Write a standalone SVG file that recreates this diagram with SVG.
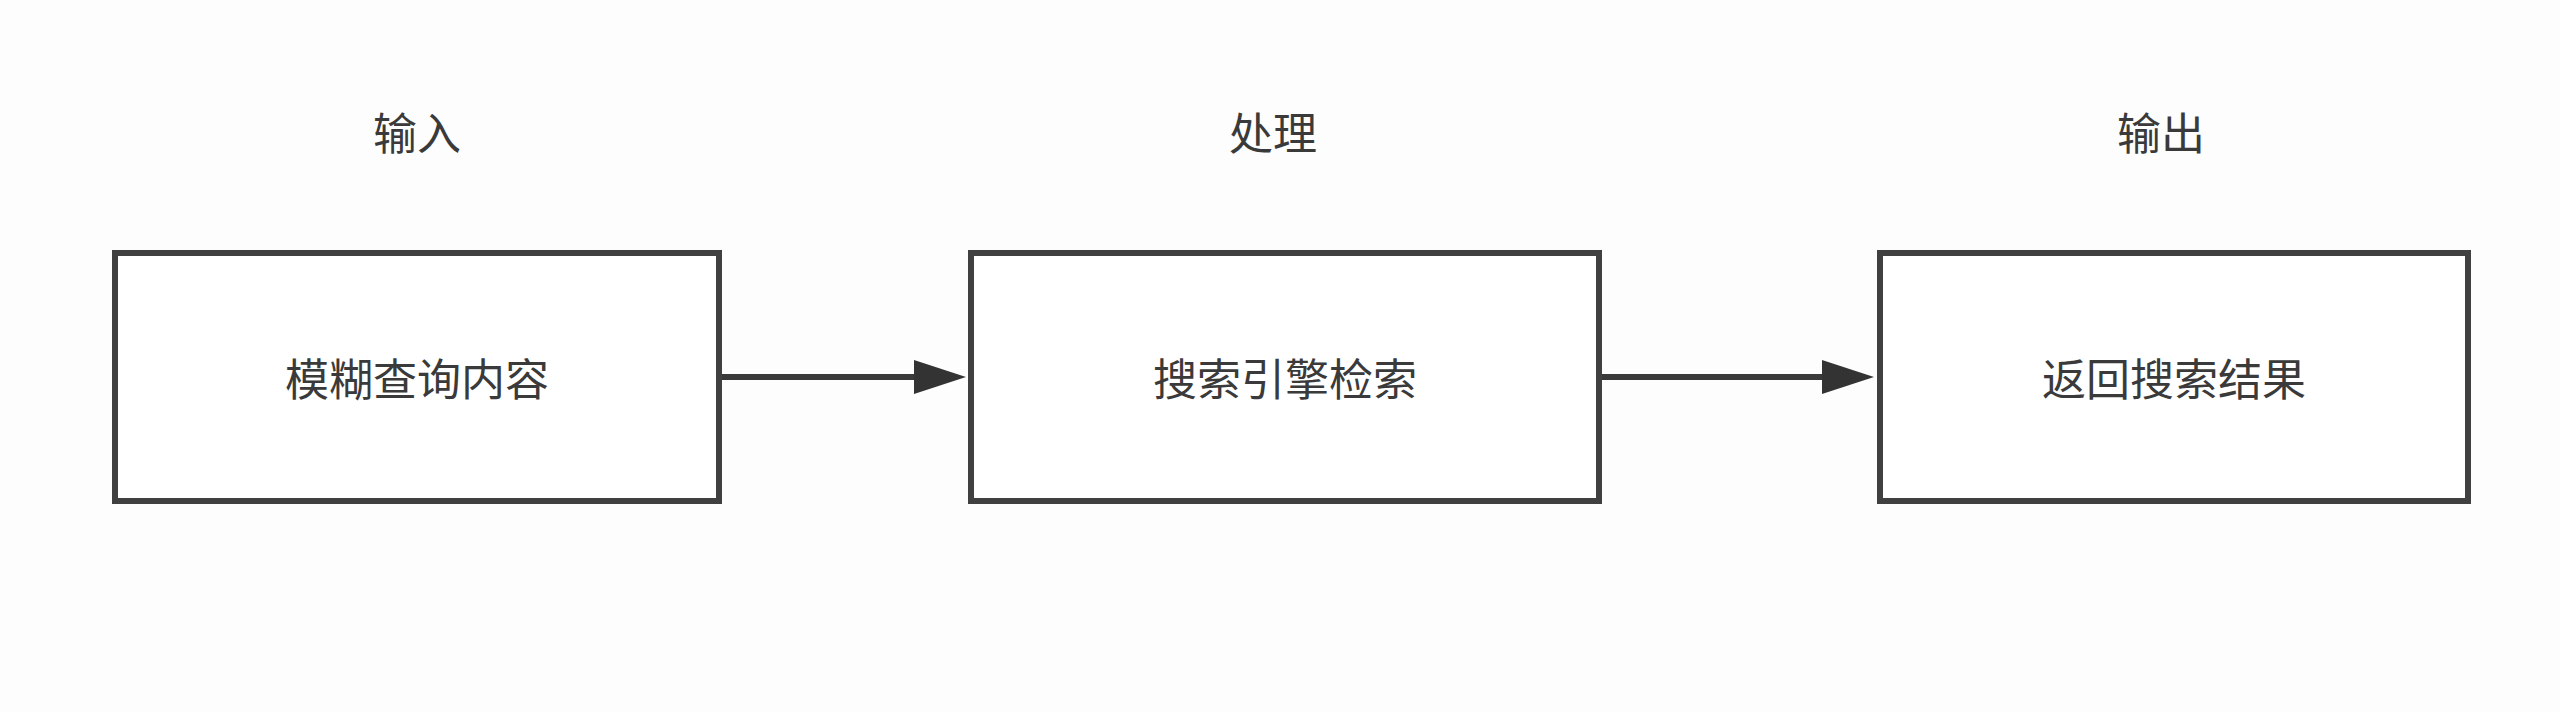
<svg xmlns="http://www.w3.org/2000/svg" width="2560" height="712" viewBox="0 0 2560 712">
<defs>
<style>
.box{fill:#ffffff;stroke:#404040;stroke-width:6}
.lbl{font-family:"Noto Sans CJK SC","Noto Sans CJK JP",sans-serif;font-size:44px;fill:#3a3a3a;text-anchor:middle;dominant-baseline:central}
.conn{stroke:#3a3a3a;stroke-width:6;fill:none}
</style>
<marker id="arrow" markerUnits="userSpaceOnUse" markerWidth="52" markerHeight="34" viewBox="0 0 52 34" refX="1" refY="17" orient="auto">
<path d="M0,0 L52,17 L0,34 z" fill="#333333"/>
</marker>
</defs>
<rect width="2560" height="712" fill="#fdfdfd"/>
<g id="titles">
<text class="lbl" x="417" y="131">输入</text>
<text class="lbl" x="1273" y="131">处理</text>
<text class="lbl" x="2161" y="131">输出</text>
</g>
<g id="node-input">
<rect class="box" x="115" y="253" width="604" height="248"/>
<text class="lbl" x="417" y="377">模糊查询内容</text>
</g>
<g id="node-process">
<rect class="box" x="971" y="253" width="628" height="248"/>
<text class="lbl" x="1285" y="377">搜索引擎检索</text>
</g>
<g id="node-output">
<rect class="box" x="1880" y="253" width="588" height="248"/>
<text class="lbl" x="2174" y="377">返回搜索结果</text>
</g>
<g id="connectors">
<line class="conn" x1="722" y1="377" x2="915" y2="377" marker-end="url(#arrow)"/>
<line class="conn" x1="1602" y1="377" x2="1823" y2="377" marker-end="url(#arrow)"/>
</g>
</svg>
